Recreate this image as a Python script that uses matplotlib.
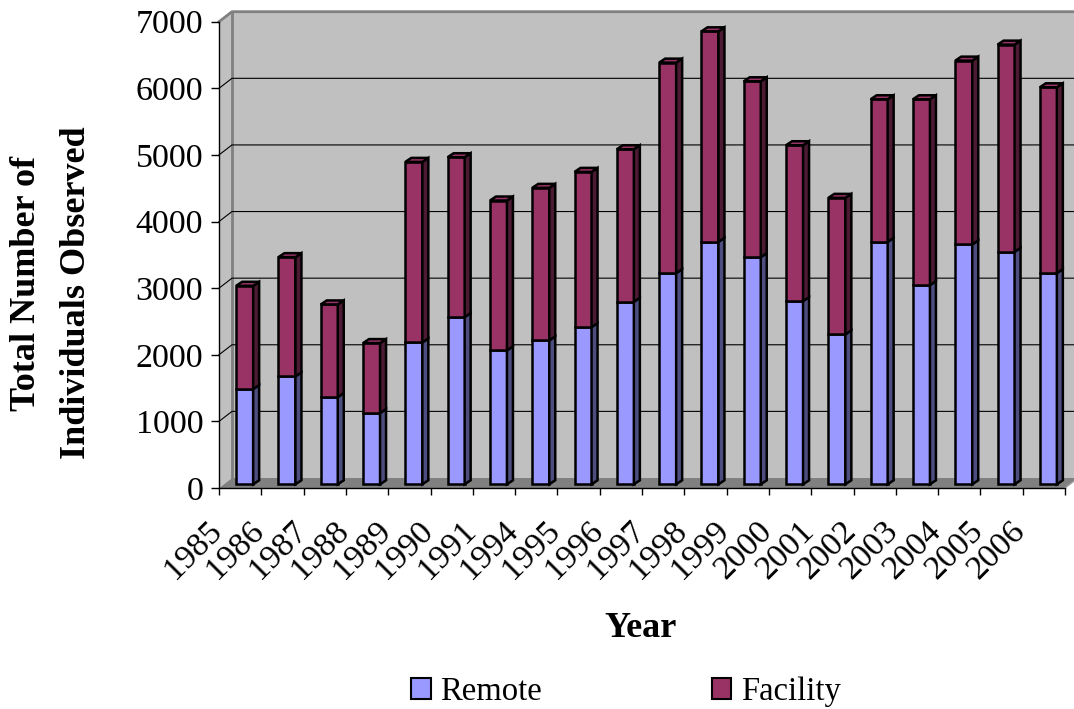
import numpy as np
import matplotlib.pyplot as plt
from matplotlib.patches import Polygon, Patch

years = ['1985', '1986', '1987', '1988', '1989', '1990', '1991', '1994',
         '1995', '1996', '1997', '1998', '1999', '2000', '2001', '2002',
         '2003', '2004', '2005', '2006']
remote = [1430, 1620, 1310, 1070, 2130, 2510, 2010, 2160, 2360, 2740,
          3170, 3640, 3410, 2750, 2250, 3640, 2990, 3600, 3490, 3170]
facility = [1550, 1790, 1390, 1050, 2710, 2400, 2250, 2290, 2330, 2290,
            3160, 3160, 2640, 2340, 2050, 2140, 2790, 2760, 3110, 2790]

plt.rcParams['font.family'] = 'Liberation Serif'

W, H = 1074, 709
fig = plt.figure(figsize=(W / 100, H / 100), dpi=100)

# front plane of the plot box (pixels)
x0, x1 = 219, 1065
y0, y1 = 488, 21.7
ax = fig.add_axes([x0 / W, 1 - y0 / H, (x1 - x0) / W, (y0 - y1) / H])
n = len(years)
ymax = 7000
ax.set_xlim(0, n)
ax.set_ylim(0, ymax)
ax.patch.set_visible(False)

cat_px = (x1 - x0) / n
val_px = (y0 - y1) / ymax


def px(dx, dy):
    # pixel offset -> data units
    return dx / cat_px, dy / val_px


wx, wy = px(13, 10)      # box depth
fx, fy = px(4.5, 3.7)    # bar front plane
dx, dy = px(6, 4)        # bar depth
bw = px(17, 0)[0]
right = px(W - x0 + 10, 0)[0]

wall, shade = '#c0c0c0', '#808080'
blue, blue_side = '#9999ff', '#4d4d80'
plum, plum_side = '#993366', '#4d1a33'

# walls and floor
ax.add_patch(Polygon([(wx, wy), (right, wy), (right, ymax + wy), (wx, ymax + wy)],
                     fc=wall, ec='none', zorder=0, clip_on=False))
ax.add_patch(Polygon([(0, 0), (wx, wy), (wx, ymax + wy), (0, ymax)],
                     fc=wall, ec='none', zorder=0, clip_on=False))
ax.add_patch(Polygon([(0, 0), (n, 0), (n + wx, wy), (wx, wy)],
                     fc=shade, ec='none', zorder=1, clip_on=False))
ax.plot([0, wx, right], [ymax, ymax + wy, ymax + wy], color=shade, lw=2,
        clip_on=False, zorder=1)
ax.plot([wx, wx], [wy, ymax + wy], color=shade, lw=2, clip_on=False, zorder=1)
ax.plot([n, n + wx], [0, wy], color='#a0a0a0', lw=1, clip_on=False, zorder=1)

for v in range(1000, ymax, 1000):
    ax.plot([0, wx, right], [v, v + wy, v + wy], color='black', lw=0.8,
            clip_on=False, zorder=1)

# stacked columns
xs = np.arange(n) + 0.5 + fx
ekw = dict(edgecolor='black', linewidth=1.8)
ax.bar(xs, remote, bw, bottom=fy, color=blue, zorder=3, **ekw)
ax.bar(xs, facility, bw, bottom=[r + fy for r in remote], color=plum, zorder=3, **ekw)

for x, r, f in zip(xs, remote, facility):
    xr = x + bw / 2
    for lo, hi, c in [(0, r, blue_side), (r, r + f, plum_side)]:
        ax.add_patch(Polygon([(xr, lo + fy), (xr + dx, lo + fy + dy),
                              (xr + dx, hi + fy + dy), (xr, hi + fy)],
                             fc=c, zorder=3, clip_on=False, **ekw))
    top = r + f + fy
    ax.add_patch(Polygon([(x - bw / 2, top), (x - bw / 2 + dx, top + dy),
                          (xr + dx, top + dy), (xr, top)],
                         fc=plum, zorder=3, clip_on=False, **ekw))

# axes lines and ticks
for s in ['top', 'right']:
    ax.spines[s].set_visible(False)
for s in ['left', 'bottom']:
    ax.spines[s].set_color('black')
    ax.spines[s].set_linewidth(1)
    ax.spines[s].set_zorder(4)

ax.set_yticks(range(0, ymax + 1, 1000))
ax.tick_params(axis='y', length=5.8, width=1, pad=5.5, labelsize=24.5)
ax.set_xticks(range(n + 1))
ax.set_xticklabels([])
ax.tick_params(axis='x', which='major', length=5, width=1)
ax.set_xticks(np.arange(n) + 0.21, years, minor=True)
ax.tick_params(axis='x', which='minor', length=0, pad=20, labelsize=24.5,
               labelrotation=45)
for lab in ax.get_xticklabels(minor=True):
    lab.set_ha('right')

# axis titles
fig.text(641 / W, 1 - 637 / H, 'Year', fontsize=26, fontweight='bold',
         ha='center', va='baseline')
fig.text(35 / W, 1 - 283 / H, 'Total Number of', fontsize=26, fontweight='bold',
         rotation=90, rotation_mode='anchor', ha='center', va='baseline')
fig.text(85 / W, 1 - 293 / H, 'Individuals Observed', fontsize=26,
         fontweight='bold', rotation=90, rotation_mode='anchor',
         ha='center', va='baseline')

handles = [Patch(fc=blue, ec='black', lw=1.5, label='Remote'),
           Patch(fc=plum, ec='black', lw=1.5, label='Facility')]
fig.legend(handles=handles, loc='center', bbox_to_anchor=(626 / W, 1 - 692 / H),
           ncol=2, frameon=False, fontsize=23.5, handlelength=0.6,
           handleheight=0.6, handletextpad=0.3, columnspacing=5.2)

fig.savefig('out.png', dpi=100)
